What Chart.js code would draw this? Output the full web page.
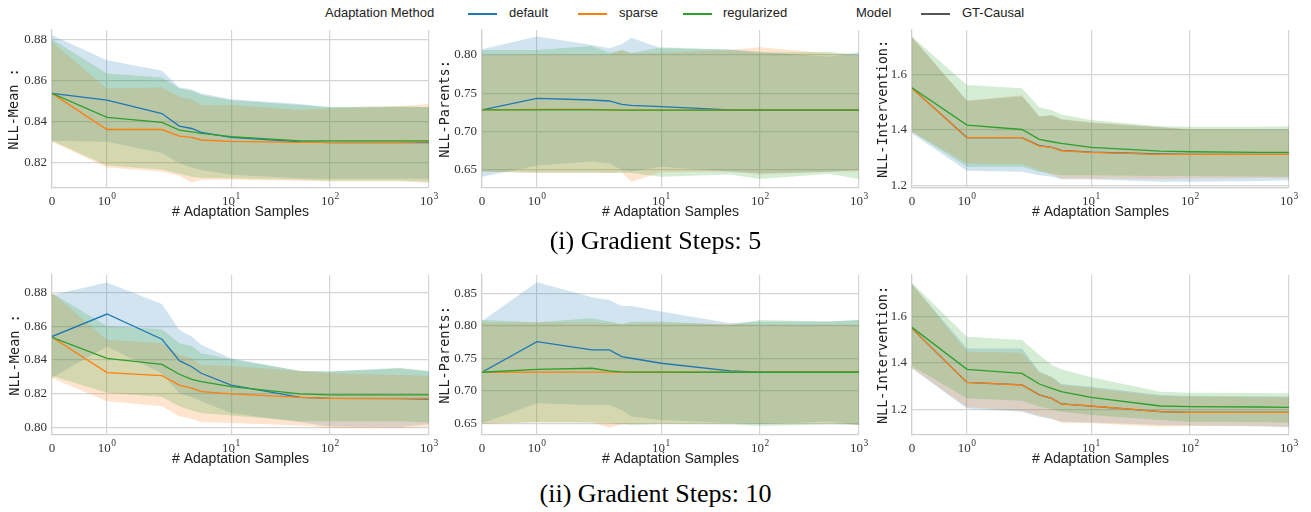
<!DOCTYPE html>
<html>
<head>
<meta charset="utf-8">
<script src="https://cdn.jsdelivr.net/npm/chart.js@4.4.1/dist/chart.umd.min.js"></script>
<style>
  body { margin: 0; width: 1311px; height: 512px; background: #fff; position: relative; overflow: hidden; }
  canvas { position: absolute; }
  .lg { position: absolute; top: 5px; font: 13px "Liberation Sans", sans-serif; color: #222; line-height: 16px; white-space: nowrap; }
  .sw { position: absolute; top: 13px; height: 1.5px; width: 29px; }
  .cap { position: absolute; left: 0; width: 1311px; text-align: center; font: 26px "Liberation Serif", serif; color: #000; }
</style>
</head>
<body>
<div class="lg" style="left:325px">Adaptation Method</div>
<div class="sw" style="left:468px;background:#1f77b4"></div><div class="lg" style="left:509px">default</div>
<div class="sw" style="left:578px;background:#ff7f0e"></div><div class="lg" style="left:619px">sparse</div>
<div class="sw" style="left:683px;background:#2ca02c"></div><div class="lg" style="left:723px">regularized</div>
<div class="lg" style="left:856px">Model</div>
<div class="sw" style="left:921px;background:#555"></div><div class="lg" style="left:962px">GT-Causal</div>

<canvas id="c1" width="440" height="206" style="left:0;top:22px"></canvas>
<canvas id="c2" width="440" height="206" style="left:430px;top:22px"></canvas>
<canvas id="c3" width="451" height="206" style="left:860px;top:22px"></canvas>
<div class="cap" style="top:226px">(i) Gradient Steps: 5</div>
<canvas id="c4" width="440" height="208" style="left:0;top:267px"></canvas>
<canvas id="c5" width="440" height="208" style="left:430px;top:267px"></canvas>
<canvas id="c6" width="451" height="208" style="left:860px;top:267px"></canvas>
<div class="cap" style="top:479px">(ii) Gradient Steps: 10</div>

<script>
// x: number of adaptation samples
const samples = [0, 1, 2, 3, 4, 5, 10, 50, 100, 500, 1000];
const xTicks = [0, 1, 10, 100, 1000];
const xTickLabels = ['0', '10^0', '10^1', '10^2', '10^3'];

// gradient steps 5 -- NLL-Mean
const s5MeanDef   = [0.8536, 0.8503, 0.8438, 0.8377, 0.8365, 0.8346, 0.8322, 0.8300, 0.8296, 0.8296, 0.8296];
const s5MeanDefLo = [0.8305, 0.8300, 0.8245, 0.8195, 0.8175, 0.8163, 0.8140, 0.8122, 0.8120, 0.8120, 0.8120];
const s5MeanDefHi = [0.8820, 0.8698, 0.8646, 0.8565, 0.8555, 0.8536, 0.8508, 0.8484, 0.8468, 0.8470, 0.8470];
const s5MeanSpa   = [0.8536, 0.8360, 0.8360, 0.8328, 0.8322, 0.8309, 0.8302, 0.8297, 0.8297, 0.8298, 0.8300];
const s5MeanSpaLo = [0.8300, 0.8175, 0.8155, 0.8135, 0.8100, 0.8115, 0.8115, 0.8110, 0.8108, 0.8108, 0.8100];
const s5MeanSpaHi = [0.8787, 0.8560, 0.8565, 0.8520, 0.8507, 0.8479, 0.8479, 0.8455, 0.8463, 0.8474, 0.8484];
const s5MeanReg   = [0.8536, 0.8419, 0.8395, 0.8357, 0.8349, 0.8341, 0.8325, 0.8305, 0.8305, 0.8305, 0.8305];
const s5MeanRegLo = [0.8305, 0.8185, 0.8165, 0.8145, 0.8130, 0.8125, 0.8122, 0.8115, 0.8110, 0.8110, 0.8105];
const s5MeanRegHi = [0.8800, 0.8633, 0.8613, 0.8560, 0.8549, 0.8528, 0.8503, 0.8479, 0.8470, 0.8474, 0.8468];

// gradient steps 5 -- NLL-Parents
const s5ParDef   = [0.7283, 0.7435, 0.7413, 0.7400, 0.7357, 0.7343, 0.7326, 0.7283, 0.7280, 0.7280, 0.7280];
const s5ParDefLo = [0.6413, 0.6557, 0.6610, 0.6587, 0.6500, 0.6480, 0.6543, 0.6478, 0.6457, 0.6478, 0.6500];
const s5ParDefHi = [0.8074, 0.8240, 0.8130, 0.8087, 0.8140, 0.8226, 0.8087, 0.8074, 0.8043, 0.7978, 0.8035];
const s5ParSpa   = [0.7283, 0.7290, 0.7290, 0.7285, 0.7282, 0.7282, 0.7280, 0.7280, 0.7280, 0.7280, 0.7280];
const s5ParSpaLo = [0.6480, 0.6465, 0.6465, 0.6460, 0.6470, 0.6348, 0.6470, 0.6480, 0.6440, 0.6478, 0.6480];
const s5ParSpaHi = [0.8000, 0.8010, 0.8005, 0.8000, 0.8065, 0.8020, 0.8030, 0.8065, 0.8100, 0.8020, 0.8000];
const s5ParReg   = [0.7283, 0.7285, 0.7285, 0.7283, 0.7282, 0.7281, 0.7280, 0.7280, 0.7280, 0.7280, 0.7280];
const s5ParRegLo = [0.6478, 0.6465, 0.6465, 0.6460, 0.6460, 0.6460, 0.6413, 0.6440, 0.6383, 0.6450, 0.6383];
const s5ParRegHi = [0.8065, 0.8065, 0.8117, 0.8030, 0.8065, 0.8022, 0.8100, 0.8065, 0.8030, 0.8043, 0.8000];

// gradient steps 5 -- NLL-Intervention
const s5IntDef   = [1.550, 1.373, 1.373, 1.344, 1.338, 1.327, 1.321, 1.314, 1.313, 1.313, 1.313];
const s5IntDefLo = [1.388, 1.254, 1.250, 1.238, 1.232, 1.223, 1.223, 1.214, 1.214, 1.217, 1.220];
const s5IntDefHi = [1.733, 1.505, 1.520, 1.448, 1.454, 1.438, 1.426, 1.410, 1.402, 1.402, 1.402];
const s5IntSpa   = [1.5497, 1.3725, 1.3725, 1.3425, 1.3377, 1.3257, 1.3198, 1.3126, 1.3126, 1.3126, 1.3126];
const s5IntSpaLo = [1.394, 1.280, 1.278, 1.256, 1.240, 1.226, 1.226, 1.224, 1.226, 1.228, 1.229];
const s5IntSpaHi = [1.735, 1.505, 1.525, 1.450, 1.452, 1.440, 1.428, 1.410, 1.404, 1.403, 1.403];
const s5IntReg   = [1.552, 1.418, 1.402, 1.3665, 1.358, 1.352, 1.3377, 1.3246, 1.322, 1.320, 1.3198];
const s5IntRegLo = [1.394, 1.268, 1.268, 1.250, 1.243, 1.238, 1.238, 1.235, 1.235, 1.233, 1.232];
const s5IntRegHi = [1.735, 1.562, 1.550, 1.481, 1.472, 1.456, 1.436, 1.414, 1.412, 1.412, 1.414];

// gradient steps 10 -- NLL-Mean
const s10MeanDef   = [0.8539, 0.8673, 0.8523, 0.8396, 0.8360, 0.8321, 0.8251, 0.8178, 0.8172, 0.8170, 0.8168];
const s10MeanDefLo = [0.8295, 0.8480, 0.8320, 0.8200, 0.8180, 0.8155, 0.8085, 0.8030, 0.8005, 0.8000, 0.8020];
const s10MeanDefHi = [0.8786, 0.8860, 0.8733, 0.8578, 0.8539, 0.8489, 0.8410, 0.8335, 0.8331, 0.8350, 0.8331];
const s10MeanSpa   = [0.8535, 0.8325, 0.8307, 0.8251, 0.8232, 0.8212, 0.8198, 0.8178, 0.8172, 0.8172, 0.8172];
const s10MeanSpaLo = [0.8292, 0.8155, 0.8125, 0.8065, 0.8050, 0.8030, 0.8025, 0.8010, 0.7995, 0.7995, 0.8005];
const s10MeanSpaHi = [0.8800, 0.8520, 0.8500, 0.8430, 0.8410, 0.8370, 0.8364, 0.8335, 0.8321, 0.8311, 0.8305];
const s10MeanReg   = [0.8535, 0.8410, 0.8374, 0.8315, 0.8285, 0.8271, 0.8242, 0.8198, 0.8192, 0.8192, 0.8192];
const s10MeanRegLo = [0.8305, 0.8205, 0.8180, 0.8125, 0.8100, 0.8085, 0.8070, 0.8035, 0.8035, 0.8035, 0.8030];
const s10MeanRegHi = [0.8796, 0.8602, 0.8582, 0.8499, 0.8483, 0.8440, 0.8404, 0.8335, 0.8331, 0.8354, 0.8335];

// gradient steps 10 -- NLL-Parents
const s10ParDef   = [0.7285, 0.7756, 0.7628, 0.7628, 0.7526, 0.7500, 0.7423, 0.7305, 0.7285, 0.7285, 0.7285];
const s10ParDefLo = [0.6500, 0.6808, 0.6782, 0.6782, 0.6705, 0.6603, 0.6551, 0.6505, 0.6490, 0.6526, 0.6474];
const s10ParDefHi = [0.8074, 0.8669, 0.8438, 0.8397, 0.8305, 0.8305, 0.8218, 0.8038, 0.8064, 0.8064, 0.8090];
const s10ParSpa   = [0.7285, 0.7288, 0.7288, 0.7286, 0.7285, 0.7285, 0.7285, 0.7285, 0.7285, 0.7285, 0.7285];
const s10ParSpaLo = [0.6490, 0.6515, 0.6515, 0.6433, 0.6480, 0.6495, 0.6500, 0.6500, 0.6495, 0.6505, 0.6475];
const s10ParSpaHi = [0.8050, 0.8050, 0.8050, 0.8035, 0.8025, 0.8030, 0.8040, 0.8025, 0.8020, 0.8020, 0.8020];
const s10ParReg   = [0.7285, 0.7330, 0.7346, 0.7305, 0.7290, 0.7288, 0.7286, 0.7285, 0.7285, 0.7285, 0.7285];
const s10ParRegLo = [0.6495, 0.6515, 0.6510, 0.6505, 0.6490, 0.6474, 0.6490, 0.6485, 0.6459, 0.6485, 0.6474];
const s10ParRegHi = [0.8090, 0.8054, 0.8115, 0.8064, 0.8028, 0.8064, 0.8064, 0.8013, 0.8090, 0.8064, 0.8090];

// gradient steps 10 -- NLL-Intervention
const s10IntDef   = [1.548, 1.316, 1.305, 1.262, 1.247, 1.223, 1.214, 1.190, 1.187, 1.187, 1.187];
const s10IntDefLo = [1.376, 1.204, 1.190, 1.1685, 1.158, 1.147, 1.143, 1.133, 1.130, 1.127, 1.123];
const s10IntDefHi = [1.739, 1.462, 1.462, 1.362, 1.340, 1.309, 1.2975, 1.262, 1.257, 1.256, 1.2545];
const s10IntSpa   = [1.5484, 1.3161, 1.3047, 1.2616, 1.2473, 1.2230, 1.2143, 1.1900, 1.1871, 1.1871, 1.1871];
const s10IntSpaLo = [1.378, 1.2086, 1.1943, 1.1728, 1.160, 1.1427, 1.1398, 1.1255, 1.1283, 1.127, 1.1255];
const s10IntSpaHi = [1.739, 1.448, 1.4437, 1.3577, 1.3376, 1.3047, 1.2903, 1.2574, 1.2545, 1.253, 1.2516];
const s10IntReg   = [1.5527, 1.372, 1.3548, 1.309, 1.2903, 1.276, 1.2516, 1.2143, 1.2115, 1.210, 1.2086];
const s10IntRegLo = [1.3864, 1.2473, 1.2373, 1.2115, 1.200, 1.190, 1.1756, 1.154, 1.147, 1.145, 1.1427];
const s10IntRegHi = [1.7448, 1.5125, 1.4982, 1.4337, 1.3907, 1.372, 1.3376, 1.276, 1.2717, 1.270, 1.2688];

// y tick labels
const yTicksMean5 = [0.82, 0.84, 0.86, 0.88];
const yTicksMean10 = [0.80, 0.82, 0.84, 0.86, 0.88];
const yTicksPar5 = [0.65, 0.70, 0.75, 0.80];
const yTicksPar10 = [0.65, 0.70, 0.75, 0.80, 0.85];
const yTicksInt = [1.2, 1.4, 1.6];

const COLORS = {
    default: ['#1f77b4', 'rgba(31,119,180,0.2)'],
    sparse: ['#ff7f0e', 'rgba(255,127,14,0.2)'],
    regularized: ['#2ca02c', 'rgba(44,160,44,0.2)']
};
const SERIF = '"Liberation Serif", serif';

// symlog x axis (linthresh 2, like matplotlib)
const LINTHRESH = 2;
const LINSCALE = 1 / (1 - 1 / 10);
function symlog(v) {
    const a = Math.abs(v);
    const t = a <= LINTHRESH ? a * LINSCALE : LINTHRESH * (LINSCALE + Math.log10(a / LINTHRESH));
    return Math.sign(v) * t;
}
function symexp(t) {
    const a = Math.abs(t);
    const v = a <= LINTHRESH * LINSCALE ? a / LINSCALE : LINTHRESH * Math.pow(10, a / LINTHRESH - LINSCALE);
    return Math.sign(t) * v;
}

class SymlogScale extends Chart.Scale {
    determineDataLimits() {
        const {min, max} = this.getMinMax(true);
        this.min = Number.isFinite(this.options.min) ? this.options.min : min;
        this.max = Number.isFinite(this.options.max) ? this.options.max : max;
    }
    buildTicks() {
        return xTicks.map(v => ({value: v}));
    }
    getLabelForValue(v) {
        return String(v);
    }
    configure() {
        super.configure();
        this._t0 = symlog(this.min);
        this._t1 = symlog(this.max);
    }
    getPixelForValue(v) {
        return this.getPixelForDecimal((symlog(v) - this._t0) / (this._t1 - this._t0));
    }
    getValueForPixel(p) {
        return symexp(this._t0 + this.getDecimalForPixel(p) * (this._t1 - this._t0));
    }
}
SymlogScale.id = 'symlog';
SymlogScale.defaults = {};
Chart.register(SymlogScale);

// x tick labels with real superscripts (10^k)
const powerTicks = {
    id: 'powerTicks',
    afterDraw(chart) {
        const sc = chart.scales.x;
        const ctx = chart.ctx;
        const base = sc.top + 16.5;
        ctx.save();
        ctx.fillStyle = '#333';
        ctx.textBaseline = 'alphabetic';
        ctx.textAlign = 'left';
        xTicks.forEach((v, i) => {
            const [b, e] = xTickLabels[i].split('^');
            ctx.font = '13px ' + SERIF;
            const wb = ctx.measureText(b).width;
            ctx.font = '9.5px ' + SERIF;
            const we = e ? ctx.measureText(e).width + 0.5 : 0;
            const x0 = sc.getPixelForValue(v) - (wb + we) / 2;
            ctx.font = '13px ' + SERIF;
            ctx.fillText(b, x0, base);
            if (e) {
                ctx.font = '9.5px ' + SERIF;
                ctx.fillText(e, x0 + wb + 0.5, base - 6);
            }
        });
        ctx.restore();
    }
};

function pts(ys) {
    return samples.map((x, i) => ({x: x, y: ys[i]}));
}

function seriesSets(name, mean, lo, hi, order) {
    const [line, fill] = COLORS[name];
    return [
        {data: pts(lo), borderWidth: 0, pointRadius: 0, fill: false, order: 10 + order},
        {data: pts(hi), borderWidth: 0, pointRadius: 0, fill: '-1', backgroundColor: fill, order: 10 + order},
        {label: name, data: pts(mean), borderColor: line, borderWidth: 1.3, pointRadius: 0, fill: false, order: order}
    ];
}

function makePanel(id, yTitle, titlePad, yMin, yMax, yTicks, digits, series) {
    let datasets = [];
    series.forEach((s, i) => { datasets = datasets.concat(seriesSets(s[0], s[1], s[2], s[3], 2 - i)); });
    const canvas = document.getElementById(id);
    new Chart(canvas, {
        type: 'line',
        data: {datasets: datasets},
        plugins: [powerTicks],
        options: {
            responsive: false,
            animation: false,
            devicePixelRatio: 1,
            layout: {padding: {top: 8, left: 0, bottom: 0, right: canvas.width - 52 - 377}},
            plugins: {
                legend: {display: false},
                tooltip: {enabled: false},
                filler: {drawTime: 'beforeDatasetsDraw'}
            },
            scales: {
                x: {
                    type: 'symlog',
                    min: 0,
                    max: 1000,
                    afterFit: s => { s.height = 40; s.paddingLeft = 0; s.paddingRight = 0; },
                    grid: {color: '#d5d5d5', lineWidth: 1.2, drawTicks: false},
                    border: {color: '#cfcfcf', width: 1.2},
                    ticks: {display: false, autoSkip: false},
                    title: {
                        display: true, text: '# Adaptation Samples', color: '#222',
                        font: {family: '"Liberation Sans", sans-serif', size: 14},
                        padding: {top: 0, bottom: 7}
                    }
                },
                y: {
                    min: yMin,
                    max: yMax,
                    afterFit: s => { s.width = 52; s.paddingTop = 0; s.paddingBottom = 0; },
                    afterBuildTicks: s => { s.ticks = yTicks.map(v => ({value: v})); },
                    grid: {color: '#d5d5d5', lineWidth: 1.2, drawTicks: false},
                    border: {color: '#cfcfcf', width: 1.2},
                    ticks: {
                        padding: 5, color: '#333',
                        font: {family: SERIF, size: 13},
                        callback: v => v.toFixed(digits)
                    },
                    title: {
                        display: true, text: yTitle, color: '#222',
                        font: {family: '"DejaVu Sans Mono", monospace', size: 13.5},
                        padding: {top: titlePad, bottom: 0}
                    }
                }
            }
        }
    });
}

makePanel('c1', 'NLL-Mean :', 6, 0.8075, 0.8845, yTicksMean5, 2, [
    ['default', s5MeanDef, s5MeanDefLo, s5MeanDefHi],
    ['sparse', s5MeanSpa, s5MeanSpaLo, s5MeanSpaHi],
    ['regularized', s5MeanReg, s5MeanRegLo, s5MeanRegHi]
]);
makePanel('c2', 'NLL-Parents:', 7, 0.6265, 0.8326, yTicksPar5, 2, [
    ['default', s5ParDef, s5ParDefLo, s5ParDefHi],
    ['sparse', s5ParSpa, s5ParSpaLo, s5ParSpaHi],
    ['regularized', s5ParReg, s5ParRegLo, s5ParRegHi]
]);
makePanel('c3', 'NLL-Intervention:', 15, 1.192, 1.759, yTicksInt, 1, [
    ['default', s5IntDef, s5IntDefLo, s5IntDefHi],
    ['sparse', s5IntSpa, s5IntSpaLo, s5IntSpaHi],
    ['regularized', s5IntReg, s5IntRegLo, s5IntRegHi]
]);
makePanel('c4', 'NLL-Mean :', 7, 0.7954, 0.8905, yTicksMean10, 2, [
    ['default', s10MeanDef, s10MeanDefLo, s10MeanDefHi],
    ['sparse', s10MeanSpa, s10MeanSpaLo, s10MeanSpaHi],
    ['regularized', s10MeanReg, s10MeanRegLo, s10MeanRegHi]
]);
makePanel('c5', 'NLL-Parents:', 7, 0.632, 0.878, yTicksPar10, 2, [
    ['default', s10ParDef, s10ParDefLo, s10ParDefHi],
    ['sparse', s10ParSpa, s10ParSpaLo, s10ParSpaHi],
    ['regularized', s10ParReg, s10ParRegLo, s10ParRegHi]
]);
makePanel('c6', 'NLL-Intervention:', 15, 1.0895, 1.778, yTicksInt, 1, [
    ['default', s10IntDef, s10IntDefLo, s10IntDefHi],
    ['sparse', s10IntSpa, s10IntSpaLo, s10IntSpaHi],
    ['regularized', s10IntReg, s10IntRegLo, s10IntRegHi]
]);
</script>
</body>
</html>
